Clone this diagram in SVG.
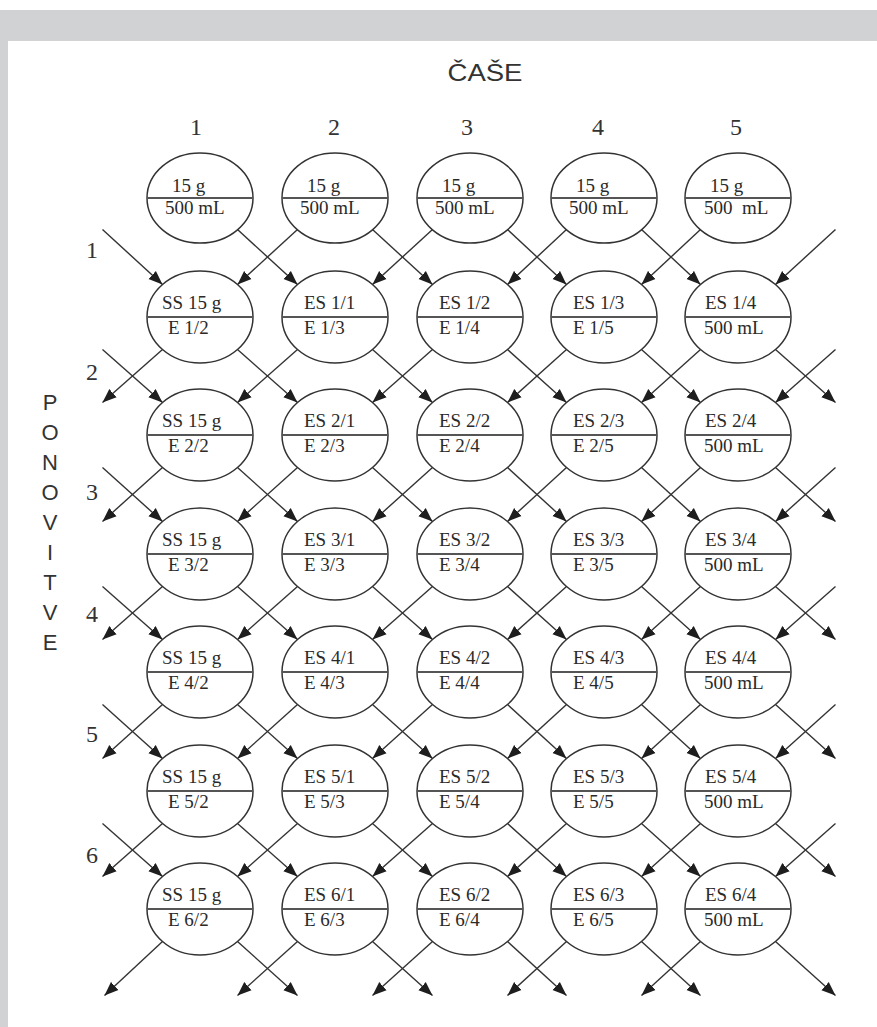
<svg xmlns="http://www.w3.org/2000/svg" width="877" height="1027" viewBox="0 0 877 1027">
<style>
.bg{fill:#ffffff}
.band{fill:#d1d2d4}
.node ellipse{fill:#ffffff;stroke:#333;stroke-width:1.5}
.node line{stroke:#555;stroke-width:2.2}
.node text{font-family:"Liberation Serif","Times New Roman",serif;font-size:19px;fill:#2a2a2a}
.lbl{font-family:"Liberation Serif","Times New Roman",serif;font-size:24px;fill:#333}
.sans{font-family:"Liberation Sans",Arial,sans-serif;font-size:22px;fill:#333}
#connectors line{stroke:#333;stroke-width:1.4;marker-end:url(#ah)}
</style>
<defs>
<marker id="ah" markerUnits="userSpaceOnUse" markerWidth="15" markerHeight="12" refX="14" refY="6" orient="auto">
<path d="M0,0.5 L14,6 L0,11.5 z" fill="#1e1e1e"/>
</marker>
</defs>
<rect class="bg" x="0" y="0" width="877" height="1027"/>
<rect class="band" x="0" y="10" width="877" height="31"/>
<rect class="band" x="0" y="10" width="8" height="1017"/>

<g id="labels">
<text class="sans" x="485" y="81" text-anchor="middle" textLength="75" lengthAdjust="spacingAndGlyphs" style="font-size:23px">ČAŠE</text>
<text class="lbl" x="196" y="135" text-anchor="middle">1</text>
<text class="lbl" x="334" y="135" text-anchor="middle">2</text>
<text class="lbl" x="467" y="135" text-anchor="middle">3</text>
<text class="lbl" x="598" y="135" text-anchor="middle">4</text>
<text class="lbl" x="736" y="135" text-anchor="middle">5</text>
<text class="lbl" x="92" y="258" text-anchor="middle">1</text>
<text class="lbl" x="92" y="380" text-anchor="middle">2</text>
<text class="lbl" x="92" y="500" text-anchor="middle">3</text>
<text class="lbl" x="92" y="622" text-anchor="middle">4</text>
<text class="lbl" x="92" y="742" text-anchor="middle">5</text>
<text class="lbl" x="92" y="863" text-anchor="middle">6</text>
<text class="sans" x="50" y="410" text-anchor="middle">P</text>
<text class="sans" x="50" y="440" text-anchor="middle">O</text>
<text class="sans" x="50" y="470" text-anchor="middle">N</text>
<text class="sans" x="50" y="500" text-anchor="middle">O</text>
<text class="sans" x="50" y="530" text-anchor="middle">V</text>
<text class="sans" x="50" y="560" text-anchor="middle">I</text>
<text class="sans" x="50" y="590" text-anchor="middle">T</text>
<text class="sans" x="50" y="620" text-anchor="middle">V</text>
<text class="sans" x="50" y="650" text-anchor="middle">E</text>
</g>

<g id="connectors">
<!-- row 0 to 1 -->
<line x1="102.5" y1="229.5" x2="162.5" y2="284.5"/>
<line x1="237.5" y1="229.5" x2="297.5" y2="284.5"/>
<line x1="372.5" y1="229.5" x2="432.5" y2="284.5"/>
<line x1="507.5" y1="229.5" x2="566.5" y2="284.5"/>
<line x1="641.5" y1="229.5" x2="700.5" y2="284.5"/>
<line x1="297.5" y1="229.5" x2="237.5" y2="284.5"/>
<line x1="432.5" y1="229.5" x2="372.5" y2="284.5"/>
<line x1="566.5" y1="229.5" x2="507.5" y2="284.5"/>
<line x1="700.5" y1="229.5" x2="641.5" y2="284.5"/>
<line x1="835.5" y1="229.5" x2="775.5" y2="284.5"/>
<!-- row 1 to 2 -->
<line x1="102.5" y1="349.5" x2="162.5" y2="402.5"/>
<line x1="237.5" y1="349.5" x2="297.5" y2="402.5"/>
<line x1="372.5" y1="349.5" x2="432.5" y2="402.5"/>
<line x1="507.5" y1="349.5" x2="566.5" y2="402.5"/>
<line x1="641.5" y1="349.5" x2="700.5" y2="402.5"/>
<line x1="775.5" y1="349.5" x2="835.5" y2="402.5"/>
<line x1="162.5" y1="349.5" x2="102.5" y2="402.5"/>
<line x1="297.5" y1="349.5" x2="237.5" y2="402.5"/>
<line x1="432.5" y1="349.5" x2="372.5" y2="402.5"/>
<line x1="566.5" y1="349.5" x2="507.5" y2="402.5"/>
<line x1="700.5" y1="349.5" x2="641.5" y2="402.5"/>
<line x1="835.5" y1="349.5" x2="775.5" y2="402.5"/>
<!-- row 2 to 3 -->
<line x1="102.5" y1="467.5" x2="162.5" y2="521.5"/>
<line x1="237.5" y1="467.5" x2="297.5" y2="521.5"/>
<line x1="372.5" y1="467.5" x2="432.5" y2="521.5"/>
<line x1="507.5" y1="467.5" x2="566.5" y2="521.5"/>
<line x1="641.5" y1="467.5" x2="700.5" y2="521.5"/>
<line x1="775.5" y1="467.5" x2="835.5" y2="521.5"/>
<line x1="162.5" y1="467.5" x2="102.5" y2="521.5"/>
<line x1="297.5" y1="467.5" x2="237.5" y2="521.5"/>
<line x1="432.5" y1="467.5" x2="372.5" y2="521.5"/>
<line x1="566.5" y1="467.5" x2="507.5" y2="521.5"/>
<line x1="700.5" y1="467.5" x2="641.5" y2="521.5"/>
<line x1="835.5" y1="467.5" x2="775.5" y2="521.5"/>
<!-- row 3 to 4 -->
<line x1="102.5" y1="586.5" x2="162.5" y2="639.5"/>
<line x1="237.5" y1="586.5" x2="297.5" y2="639.5"/>
<line x1="372.5" y1="586.5" x2="432.5" y2="639.5"/>
<line x1="507.5" y1="586.5" x2="566.5" y2="639.5"/>
<line x1="641.5" y1="586.5" x2="700.5" y2="639.5"/>
<line x1="775.5" y1="586.5" x2="835.5" y2="639.5"/>
<line x1="162.5" y1="586.5" x2="102.5" y2="639.5"/>
<line x1="297.5" y1="586.5" x2="237.5" y2="639.5"/>
<line x1="432.5" y1="586.5" x2="372.5" y2="639.5"/>
<line x1="566.5" y1="586.5" x2="507.5" y2="639.5"/>
<line x1="700.5" y1="586.5" x2="641.5" y2="639.5"/>
<line x1="835.5" y1="586.5" x2="775.5" y2="639.5"/>
<!-- row 4 to 5 -->
<line x1="102.5" y1="704.5" x2="162.5" y2="758.5"/>
<line x1="237.5" y1="704.5" x2="297.5" y2="758.5"/>
<line x1="372.5" y1="704.5" x2="432.5" y2="758.5"/>
<line x1="507.5" y1="704.5" x2="566.5" y2="758.5"/>
<line x1="641.5" y1="704.5" x2="700.5" y2="758.5"/>
<line x1="775.5" y1="704.5" x2="835.5" y2="758.5"/>
<line x1="162.5" y1="704.5" x2="102.5" y2="758.5"/>
<line x1="297.5" y1="704.5" x2="237.5" y2="758.5"/>
<line x1="432.5" y1="704.5" x2="372.5" y2="758.5"/>
<line x1="566.5" y1="704.5" x2="507.5" y2="758.5"/>
<line x1="700.5" y1="704.5" x2="641.5" y2="758.5"/>
<line x1="835.5" y1="704.5" x2="775.5" y2="758.5"/>
<!-- row 5 to 6 -->
<line x1="102.5" y1="823.5" x2="162.5" y2="876.5"/>
<line x1="237.5" y1="823.5" x2="297.5" y2="876.5"/>
<line x1="372.5" y1="823.5" x2="432.5" y2="876.5"/>
<line x1="507.5" y1="823.5" x2="566.5" y2="876.5"/>
<line x1="641.5" y1="823.5" x2="700.5" y2="876.5"/>
<line x1="775.5" y1="823.5" x2="835.5" y2="876.5"/>
<line x1="162.5" y1="823.5" x2="102.5" y2="876.5"/>
<line x1="297.5" y1="823.5" x2="237.5" y2="876.5"/>
<line x1="432.5" y1="823.5" x2="372.5" y2="876.5"/>
<line x1="566.5" y1="823.5" x2="507.5" y2="876.5"/>
<line x1="700.5" y1="823.5" x2="641.5" y2="876.5"/>
<line x1="835.5" y1="823.5" x2="775.5" y2="876.5"/>
<!-- row 6 out -->
<line x1="237.5" y1="941.5" x2="297.5" y2="995.5"/>
<line x1="372.5" y1="941.5" x2="432.5" y2="995.5"/>
<line x1="507.5" y1="941.5" x2="566.5" y2="995.5"/>
<line x1="641.5" y1="941.5" x2="700.5" y2="995.5"/>
<line x1="775.5" y1="941.5" x2="835.5" y2="995.5"/>
<line x1="162.5" y1="941.5" x2="104.5" y2="995.5"/>
<line x1="297.5" y1="941.5" x2="237.5" y2="995.5"/>
<line x1="432.5" y1="941.5" x2="372.5" y2="995.5"/>
<line x1="566.5" y1="941.5" x2="507.5" y2="995.5"/>
<line x1="700.5" y1="941.5" x2="641.5" y2="995.5"/>
</g>

<!-- top row -->
<g id="n0-1" class="node"><ellipse cx="200" cy="198" rx="53" ry="45"/><line x1="147" y1="198" x2="253" y2="198"/><text x="172" y="192">15 g</text><text x="165" y="214">500 mL</text></g>
<g id="n0-2" class="node"><ellipse cx="335" cy="198" rx="53" ry="45"/><line x1="282" y1="198" x2="388" y2="198"/><text x="307" y="192">15 g</text><text x="300" y="214">500 mL</text></g>
<g id="n0-3" class="node"><ellipse cx="470" cy="198" rx="53" ry="45"/><line x1="417" y1="198" x2="523" y2="198"/><text x="442" y="192">15 g</text><text x="435" y="214">500 mL</text></g>
<g id="n0-4" class="node"><ellipse cx="604" cy="198" rx="53" ry="45"/><line x1="551" y1="198" x2="657" y2="198"/><text x="576" y="192">15 g</text><text x="569" y="214">500 mL</text></g>
<g id="n0-5" class="node"><ellipse cx="738" cy="198" rx="53" ry="45"/><line x1="685" y1="198" x2="791" y2="198"/><text x="710" y="192">15 g</text><text x="704" y="214" xml:space="preserve">500  mL</text></g>

<!-- row 1 -->
<g id="n1-1" class="node"><ellipse cx="200" cy="317" rx="53" ry="46"/><line x1="147" y1="317" x2="253" y2="317"/><text x="162" y="309">SS 15 g</text><text x="168" y="334">E 1/2</text></g>
<g id="n1-2" class="node"><ellipse cx="335" cy="317" rx="53" ry="46"/><line x1="282" y1="317" x2="388" y2="317"/><text x="304" y="309">ES 1/1</text><text x="304" y="334">E 1/3</text></g>
<g id="n1-3" class="node"><ellipse cx="470" cy="317" rx="53" ry="46"/><line x1="417" y1="317" x2="523" y2="317"/><text x="439" y="309">ES 1/2</text><text x="439" y="334">E 1/4</text></g>
<g id="n1-4" class="node"><ellipse cx="604" cy="317" rx="53" ry="46"/><line x1="551" y1="317" x2="657" y2="317"/><text x="573" y="309">ES 1/3</text><text x="573" y="334">E 1/5</text></g>
<g id="n1-5" class="node"><ellipse cx="738" cy="317" rx="53" ry="46"/><line x1="685" y1="317" x2="791" y2="317"/><text x="705" y="309">ES 1/4</text><text x="704" y="334">500 mL</text></g>

<!-- row 2 -->
<g id="n2-1" class="node"><ellipse cx="200" cy="435" rx="53" ry="46"/><line x1="147" y1="435" x2="253" y2="435"/><text x="162" y="427">SS 15 g</text><text x="168" y="452">E 2/2</text></g>
<g id="n2-2" class="node"><ellipse cx="335" cy="435" rx="53" ry="46"/><line x1="282" y1="435" x2="388" y2="435"/><text x="304" y="427">ES 2/1</text><text x="304" y="452">E 2/3</text></g>
<g id="n2-3" class="node"><ellipse cx="470" cy="435" rx="53" ry="46"/><line x1="417" y1="435" x2="523" y2="435"/><text x="439" y="427">ES 2/2</text><text x="439" y="452">E 2/4</text></g>
<g id="n2-4" class="node"><ellipse cx="604" cy="435" rx="53" ry="46"/><line x1="551" y1="435" x2="657" y2="435"/><text x="573" y="427">ES 2/3</text><text x="573" y="452">E 2/5</text></g>
<g id="n2-5" class="node"><ellipse cx="738" cy="435" rx="53" ry="46"/><line x1="685" y1="435" x2="791" y2="435"/><text x="705" y="427">ES 2/4</text><text x="704" y="452">500 mL</text></g>

<!-- row 3 -->
<g id="n3-1" class="node"><ellipse cx="200" cy="554" rx="53" ry="46"/><line x1="147" y1="554" x2="253" y2="554"/><text x="162" y="546">SS 15 g</text><text x="168" y="571">E 3/2</text></g>
<g id="n3-2" class="node"><ellipse cx="335" cy="554" rx="53" ry="46"/><line x1="282" y1="554" x2="388" y2="554"/><text x="304" y="546">ES 3/1</text><text x="304" y="571">E 3/3</text></g>
<g id="n3-3" class="node"><ellipse cx="470" cy="554" rx="53" ry="46"/><line x1="417" y1="554" x2="523" y2="554"/><text x="439" y="546">ES 3/2</text><text x="439" y="571">E 3/4</text></g>
<g id="n3-4" class="node"><ellipse cx="604" cy="554" rx="53" ry="46"/><line x1="551" y1="554" x2="657" y2="554"/><text x="573" y="546">ES 3/3</text><text x="573" y="571">E 3/5</text></g>
<g id="n3-5" class="node"><ellipse cx="738" cy="554" rx="53" ry="46"/><line x1="685" y1="554" x2="791" y2="554"/><text x="705" y="546">ES 3/4</text><text x="704" y="571">500 mL</text></g>

<!-- row 4 -->
<g id="n4-1" class="node"><ellipse cx="200" cy="672" rx="53" ry="46"/><line x1="147" y1="672" x2="253" y2="672"/><text x="162" y="664">SS 15 g</text><text x="168" y="689">E 4/2</text></g>
<g id="n4-2" class="node"><ellipse cx="335" cy="672" rx="53" ry="46"/><line x1="282" y1="672" x2="388" y2="672"/><text x="304" y="664">ES 4/1</text><text x="304" y="689">E 4/3</text></g>
<g id="n4-3" class="node"><ellipse cx="470" cy="672" rx="53" ry="46"/><line x1="417" y1="672" x2="523" y2="672"/><text x="439" y="664">ES 4/2</text><text x="439" y="689">E 4/4</text></g>
<g id="n4-4" class="node"><ellipse cx="604" cy="672" rx="53" ry="46"/><line x1="551" y1="672" x2="657" y2="672"/><text x="573" y="664">ES 4/3</text><text x="573" y="689">E 4/5</text></g>
<g id="n4-5" class="node"><ellipse cx="738" cy="672" rx="53" ry="46"/><line x1="685" y1="672" x2="791" y2="672"/><text x="705" y="664">ES 4/4</text><text x="704" y="689">500 mL</text></g>

<!-- row 5 -->
<g id="n5-1" class="node"><ellipse cx="200" cy="791" rx="53" ry="46"/><line x1="147" y1="791" x2="253" y2="791"/><text x="162" y="783">SS 15 g</text><text x="168" y="808">E 5/2</text></g>
<g id="n5-2" class="node"><ellipse cx="335" cy="791" rx="53" ry="46"/><line x1="282" y1="791" x2="388" y2="791"/><text x="304" y="783">ES 5/1</text><text x="304" y="808">E 5/3</text></g>
<g id="n5-3" class="node"><ellipse cx="470" cy="791" rx="53" ry="46"/><line x1="417" y1="791" x2="523" y2="791"/><text x="439" y="783">ES 5/2</text><text x="439" y="808">E 5/4</text></g>
<g id="n5-4" class="node"><ellipse cx="604" cy="791" rx="53" ry="46"/><line x1="551" y1="791" x2="657" y2="791"/><text x="573" y="783">ES 5/3</text><text x="573" y="808">E 5/5</text></g>
<g id="n5-5" class="node"><ellipse cx="738" cy="791" rx="53" ry="46"/><line x1="685" y1="791" x2="791" y2="791"/><text x="705" y="783">ES 5/4</text><text x="704" y="808">500 mL</text></g>

<!-- row 6 -->
<g id="n6-1" class="node"><ellipse cx="200" cy="909" rx="53" ry="46"/><line x1="147" y1="909" x2="253" y2="909"/><text x="162" y="901">SS 15 g</text><text x="168" y="926">E 6/2</text></g>
<g id="n6-2" class="node"><ellipse cx="335" cy="909" rx="53" ry="46"/><line x1="282" y1="909" x2="388" y2="909"/><text x="304" y="901">ES 6/1</text><text x="304" y="926">E 6/3</text></g>
<g id="n6-3" class="node"><ellipse cx="470" cy="909" rx="53" ry="46"/><line x1="417" y1="909" x2="523" y2="909"/><text x="439" y="901">ES 6/2</text><text x="439" y="926">E 6/4</text></g>
<g id="n6-4" class="node"><ellipse cx="604" cy="909" rx="53" ry="46"/><line x1="551" y1="909" x2="657" y2="909"/><text x="573" y="901">ES 6/3</text><text x="573" y="926">E 6/5</text></g>
<g id="n6-5" class="node"><ellipse cx="738" cy="909" rx="53" ry="46"/><line x1="685" y1="909" x2="791" y2="909"/><text x="705" y="901">ES 6/4</text><text x="704" y="926">500 mL</text></g>
</svg>
